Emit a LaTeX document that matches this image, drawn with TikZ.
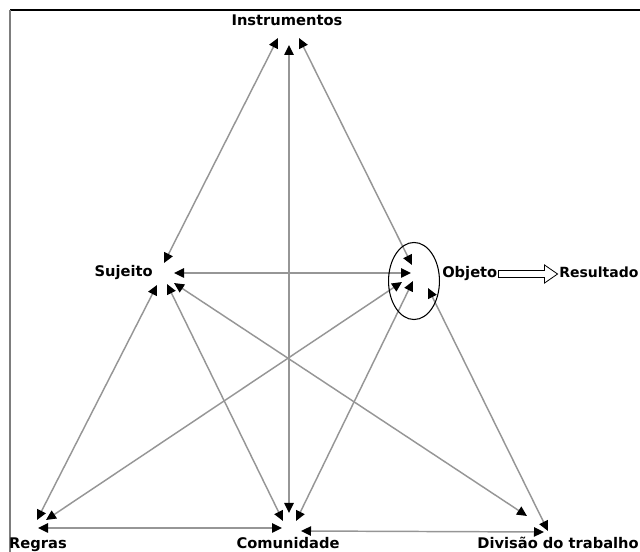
\documentclass[tikz,border=0pt]{standalone}
\usepackage{fontspec}
\setmainfont{DejaVu Sans}
\usetikzlibrary{arrows.meta}
\definecolor{figL}{RGB}{150,150,150}
\definecolor{figF}{RGB}{125,125,125}
\tikzset{lbl/.style={font=\fontsize{11}{13}\selectfont\bfseries, inner sep=0pt},
  link/.style={figL, line width=1.1pt,
    {Triangle[color=black, length=7.5pt, width=7pt]}-{Triangle[color=black, length=7.5pt, width=7pt]}}}

\begin{document}
\begin{tikzpicture}[x=0.75pt, y=-0.75pt]
\useasboundingbox (0,0) rectangle (640,552);
% frame
\draw[line width=1.1pt] (10,10) -- (640,10);
\draw[figF, line width=1.5pt] (10,10) -- (10,552);
% labels
\node[lbl, anchor=base] (ins) at (287,26) {Instrumentos};
\node[lbl, anchor=base east] (suj) at (153,277) {Sujeito};
\node[lbl, anchor=base west] (obj) at (442,278) {Objeto};
\node[lbl, anchor=base west, font=\fontsize{10.5}{13}\selectfont\bfseries] (res) at (559,278) {Resultado};
\node[lbl, anchor=base] (reg) at (38,549) {Regras};
\node[lbl, anchor=base] (com) at (288,549) {Comunidade};
\node[lbl, anchor=base east] (div) at (639,549) {Divisão do trabalho};
% arrow ends
\coordinate (i1) at (278,38);
\coordinate (i2) at (289,45);
\coordinate (i3) at (299,38);
\coordinate (s1) at (164,263);
\coordinate (s2) at (174,273);
\coordinate (s3) at (157,285);
\coordinate (s4) at (167,284);
\coordinate (s5) at (174,283);
\coordinate (o1) at (412,265);
\coordinate (o2) at (411,273);
\coordinate (o3) at (402,282);
\coordinate (o4) at (413,281);
\coordinate (o5) at (428,288);
\coordinate (r1) at (37,520);
\coordinate (r2) at (46,520);
\coordinate (r3) at (38,528);
\coordinate (c1) at (289,513);
\coordinate (c2) at (283,521);
\coordinate (c3) at (296,521);
\coordinate (c4) at (282,528);
\coordinate (c5) at (301,531);
\coordinate (d1) at (527,516);
\coordinate (d2) at (548,531);
\coordinate (d3) at (544,532);
% links
\draw[link] (s1) -- (i1);
\draw[link] (i3) -- (o1);
\draw[link] (i2) -- (c1);
\draw[link] (s2) -- (o2);
\draw[link] (s3) -- (r1);
\draw[link] (s4) -- (c2);
\draw[link] (s5) -- (d1);
\draw[link] (o3) -- (r2);
\draw[link] (o4) -- (c3);
\draw[link] (o5) -- (d2);
\draw[link] (r3) -- (c4);
\draw[link] (c5) -- (d3);
% object oval
\draw[line width=0.8pt] (414,281) ellipse [x radius=19.1pt, y radius=28.9pt];
% block arrow to result
\draw[line width=0.6pt, fill=white] (obj.east) ++(1,-3.5) -- ++(46,0) -- ++(0,-5.5)
  -- ++(13,9) -- ++(-13,9) -- ++(0,-5.5) -- ++(-46,0) -- cycle;
\end{tikzpicture}
\end{document}
